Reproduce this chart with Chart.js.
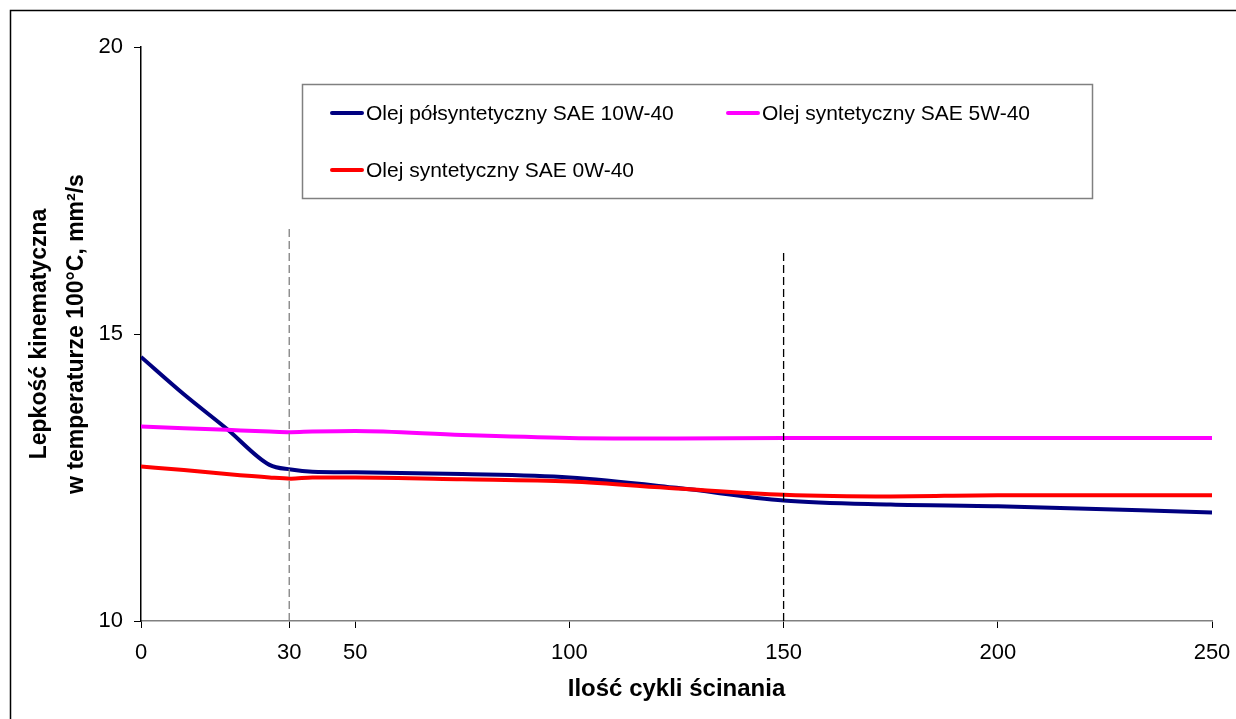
<!DOCTYPE html>
<html>
<head>
<meta charset="utf-8">
<script src="https://cdn.jsdelivr.net/npm/chart.js@4.4.1/dist/chart.umd.min.js"></script>
<style>
  body { margin: 0; background: #fff; }
  #wrap { position: relative; width: 1236px; height: 719px; }
</style>
</head>
<body>
<div id="wrap"><canvas id="lineChart"></canvas></div>
<script>
// shear cycles (x) and kinematic viscosity at 100°C (mm2/s)
var cycles = [0, 10, 20, 30, 35, 40, 50, 75, 100, 125, 150, 175, 200, 250];
var semiSynth10W40 = [14.60, 13.95, 13.35, 12.72, 12.64, 12.60, 12.59, 12.56, 12.50, 12.32, 12.10, 12.03, 12.00, 11.89];
var synth5W40 = [13.39, 13.36, 13.33, 13.30, 13.29, 13.30, 13.31, 13.24, 13.19, 13.18, 13.19, 13.19, 13.19, 13.19];
var synth0W40 = [12.69, 12.63, 12.56, 12.50, 12.48, 12.50, 12.50, 12.47, 12.43, 12.31, 12.20, 12.17, 12.19, 12.19];
var seriesNames = ['Olej półsyntetyczny SAE 10W-40', 'Olej syntetyczny SAE 5W-40', 'Olej syntetyczny SAE 0W-40'];

// x tick positions as drawn in the picture and their labels
var xTickValues = [0, 34.6, 50, 100, 150, 200, 250];
var xTickLabels = ['0', '30', '50', '100', '150', '200', '250'];

// vertical dashed markers: x position and top value
var markerX = [34.6, 150];
var markerTop = [16.83, 16.45];

function points(ys) {
    return cycles.map(function(c, i) { return { x: c, y: ys[i] }; });
}

var font = 'Liberation Sans, Arial, sans-serif';

var seriesColors = ['#000080', '#FF00FF', '#FF0000'];
var seriesData = [semiSynth10W40, synth5W40, synth0W40];

var datasets = seriesData.map(function(ys, i) {
    return {
        label: seriesNames[i],
        data: points(ys),
        borderColor: seriesColors[i],
        backgroundColor: seriesColors[i],
        borderWidth: 4,
        pointRadius: 0,
        cubicInterpolationMode: 'monotone',
        fill: false,
        order: 3 - i
    };
});

markerX.forEach(function(mx, i) {
    datasets.push({
        label: 'marker' + i,
        isMarker: true,
        data: [{ x: mx, y: 10 }, { x: mx, y: markerTop[i] }],
        borderColor: i === 0 ? '#808080' : '#000000',
        borderWidth: 1.3,
        borderDash: [8, 4],
        pointRadius: 0,
        fill: false,
        order: 0
    });
});

var frameAndLegend = {
    id: 'frameAndLegend',
    beforeDraw: function(chart) {
        var c = chart.ctx;
        c.save();
        c.fillStyle = '#fff';
        c.fillRect(0, 0, chart.width, chart.height);
        c.strokeStyle = '#000';
        c.lineWidth = 1.5;
        c.strokeRect(10.5, 10.5, 1400, 900);
        c.restore();
    },
    afterDraw: function(chart) {
        var c = chart.ctx;
        c.save();
        c.fillStyle = '#fff';
        c.fillRect(302, 84, 791, 115);
        c.strokeStyle = '#808080';
        c.lineWidth = 1.5;
        c.strokeRect(302.5, 84.5, 790, 114);
        var spots = [[332, 113], [728, 113], [332, 170]];
        c.font = '21px ' + font;
        c.textBaseline = 'middle';
        c.fillStyle = '#000';
        chart.data.datasets.forEach(function(ds, i) {
            if (ds.isMarker) return;
            var p = spots[i];
            c.strokeStyle = ds.borderColor;
            c.lineWidth = 4;
            c.lineCap = 'round';
            c.beginPath();
            c.moveTo(p[0], p[1]);
            c.lineTo(p[0] + 30, p[1]);
            c.stroke();
            c.fillText(ds.label, p[0] + 34, p[1] + 1);
        });
        c.restore();
    }
};

var ctx = document.getElementById('lineChart').getContext('2d');
var lineChart = new Chart(ctx, {
    type: 'line',
    data: { datasets: datasets },
    options: {
        responsive: true,
        maintainAspectRatio: false,
        animation: false,
        layout: { padding: { left: 0, top: 47, right: 24, bottom: 0 } },
        plugins: {
            legend: { display: false },
            tooltip: { enabled: false }
        },
        scales: {
            x: {
                type: 'linear',
                min: 0,
                max: 250,
                afterBuildTicks: function(axis) {
                    axis.ticks = xTickValues.map(function(v) { return { value: v }; });
                },
                afterFit: function(axis) {
                    axis.height = 98;
                    axis.paddingLeft = 0;
                    axis.paddingRight = 0;
                },
                border: { display: true, color: '#808080', width: 1.5 },
                grid: { display: true, drawOnChartArea: false, drawTicks: true, tickLength: 7, color: '#000', lineWidth: 1 },
                ticks: {
                    autoSkip: false,
                    maxRotation: 0,
                    padding: 12,
                    color: '#000',
                    font: { family: font, size: 22 },
                    callback: function(v) {
                        var k = xTickValues.indexOf(v);
                        return k >= 0 ? xTickLabels[k] : '';
                    }
                },
                title: {
                    display: true,
                    text: 'Ilość cykli ścinania',
                    color: '#000',
                    font: { family: font, size: 24, weight: 'bold' },
                    padding: { top: 0, bottom: 15 }
                }
            },
            y: {
                min: 10,
                max: 20,
                afterFit: function(axis) { axis.width = 141; },
                border: { display: true, color: '#000', width: 1.5 },
                grid: { display: true, drawOnChartArea: false, drawTicks: true, tickLength: 7, color: '#000', lineWidth: 1 },
                ticks: {
                    stepSize: 5,
                    padding: 11,
                    color: '#000',
                    font: { family: font, size: 22 }
                },
                title: {
                    display: true,
                    text: ['Lepkość kinematyczna', 'w temperaturze 100°C, mm²/s'],
                    color: '#000',
                    font: { family: font, size: 23, weight: 'bold', lineHeight: 1.6 },
                    padding: { top: 21, bottom: 0 }
                }
            }
        }
    },
    plugins: [frameAndLegend]
});
</script>
</body>
</html>
